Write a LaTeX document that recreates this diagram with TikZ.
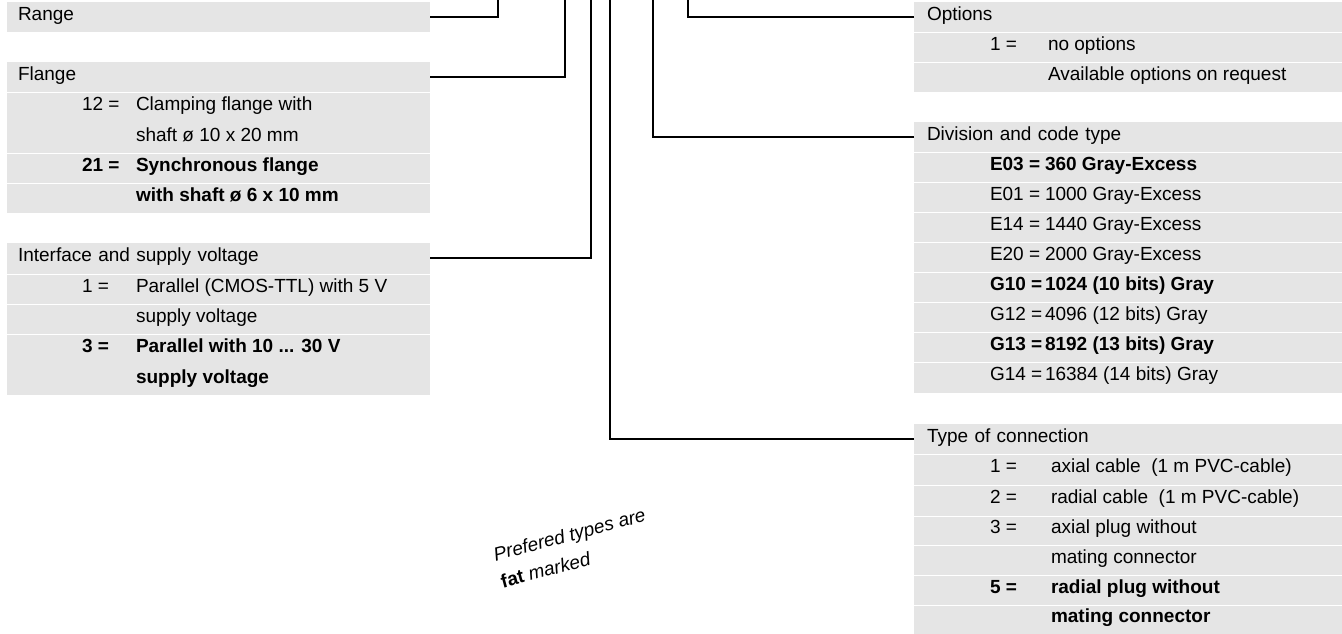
\documentclass[tikz,border=0pt]{standalone}
\usepackage{fontspec}
\setmainfont{Liberation Sans}
\usetikzlibrary{calc,positioning}

\tikzset{
  conn/.style={line width=1.5pt},
  boxfill/.style={fill=black!10},
  sep/.style={draw=white,line width=0.8pt},
  headl/.style={text width=401pt,inner xsep=11pt},
  headr/.style={text width=406pt,inner xsep=13pt}
}

\begin{document}
\begin{tikzpicture}[x=1pt,y=-1pt,text height=1.5ex,text depth=0.25ex,
    every node/.style={font=\fontsize{19}{23}\selectfont,inner sep=0pt,outer sep=0pt,anchor=west}]

    \useasboundingbox (0,0) rectangle (1342,634);

    % grey boxes
    \fill[boxfill] (7,2) rectangle (430,32);
    \fill[boxfill] (7,62) rectangle (430,213);
    \fill[boxfill] (7,243) rectangle (430,395);
    \fill[boxfill] (914,2) rectangle (1342,92);
    \fill[boxfill] (914,122) rectangle (1342,393);
    \fill[boxfill] (914,424) rectangle (1342,634);

    \foreach \y in {92,153,183} \draw[sep] (7,\y) -- (430,\y);
    \foreach \y in {274,304,334} \draw[sep] (7,\y) -- (430,\y);
    \foreach \y in {32,62} \draw[sep] (914,\y) -- (1342,\y);
    \foreach \y in {152,182,...,362} \draw[sep] (914,\y) -- (1342,\y);
    \foreach \y in {454,485,516,545,575,605} \draw[sep] (914,\y) -- (1342,\y);

    % left column
    \node[headl] (range) at (7,17) {Range};

    \node[headl] (flange) at (7,77) {Flange};
    \node (fl12c) at (82,107) {12 =};
    \node (fl12d) at (136,107) {Clamping flange with};
    \node (fl12e) at (136,138) {shaft ø 10 x 20 mm};
    \node[font=\fontsize{19}{23}\selectfont\bfseries] (fl21c) at (82,168) {21 =};
    \node[font=\fontsize{19}{23}\selectfont\bfseries] (fl21d) at (136,168) {Synchronous flange};
    \node[font=\fontsize{19}{23}\selectfont\bfseries] (fl21e) at (136,198) {with shaft ø 6 x 10 mm};

    \node[headl] (iface) at (7,258) {Interface and supply voltage};
    \node (if1c) at (82,289) {1 =};
    \node (if1d) at (136,289) {Parallel (CMOS-TTL) with 5 V};
    \node (if1e) at (136,319) {supply voltage};
    \node[font=\fontsize{19}{23}\selectfont\bfseries] (if3c) at (82,349) {3 =};
    \node[font=\fontsize{19}{23}\selectfont\bfseries] (if3d) at (136,349) {Parallel with 10 ... 30 V};
    \node[font=\fontsize{19}{23}\selectfont\bfseries] (if3e) at (136,380) {supply voltage};

    % right column
    \node[headr] (opts) at (914,17) {Options};
    \node (op1c) at (990,47) {1 =};
    \node (op1d) at (1048,47) {no options};
    \node (op1e) at (1048,77) {Available options on request};

    \node[headr] (divis) at (914,137) {Division and code type};
    \node[font=\fontsize{19}{23}\selectfont\bfseries] (e03c) at (990,167) {E03 =};
    \node[font=\fontsize{19}{23}\selectfont\bfseries] (e03d) at (1045,167) {360 Gray-Excess};
    \node (e01c) at (990,197) {E01 =};
    \node (e01d) at (1045,197) {1000 Gray-Excess};
    \node (e14c) at (990,227) {E14 =};
    \node (e14d) at (1045,227) {1440 Gray-Excess};
    \node (e20c) at (990,257) {E20 =};
    \node (e20d) at (1045,257) {2000 Gray-Excess};
    \node[font=\fontsize{19}{23}\selectfont\bfseries] (g10c) at (990,287) {G10 =};
    \node[font=\fontsize{19}{23}\selectfont\bfseries] (g10d) at (1045,287) {1024 (10 bits) Gray};
    \node (g12c) at (990,317) {G12 =};
    \node (g12d) at (1045,317) {4096 (12 bits) Gray};
    \node[font=\fontsize{19}{23}\selectfont\bfseries] (g13c) at (990,347) {G13 =};
    \node[font=\fontsize{19}{23}\selectfont\bfseries] (g13d) at (1045,347) {8192 (13 bits) Gray};
    \node (g14c) at (990,377) {G14 =};
    \node (g14d) at (1045,377) {16384 (14 bits) Gray};

    \node[headr] (conn) at (914,439) {Type of connection};
    \node (cn1c) at (990,469) {1 =};
    \node (cn1d) at (1051,469) {axial cable~ (1 m PVC-cable)};
    \node (cn2c) at (990,500) {2 =};
    \node (cn2d) at (1051,500) {radial cable~ (1 m PVC-cable)};
    \node (cn3c) at (990,530) {3 =};
    \node (cn3d) at (1051,530) {axial plug without};
    \node (cn3e) at (1051,560) {mating connector};
    \node[font=\fontsize{19}{23}\selectfont\bfseries] (cn5c) at (990,590) {5 =};
    \node[font=\fontsize{19}{23}\selectfont\bfseries] (cn5d) at (1051,590) {radial plug without};
    \node[font=\fontsize{19}{23}\selectfont\bfseries] (cn5e) at (1051,619) {mating connector};

    % note
    \node[rotate=15,align=left,anchor=center,text height=,text depth=,
          font=\fontsize{19}{28}\selectfont\itshape] (pref) at (573,548)
          {Prefered types are\\\textbf{\upshape fat} marked};

    % connectors up to the top edge
    \coordinate (trange) at (498,0);
    \coordinate (tflange) at (565,0);
    \coordinate (tiface) at (591,0);
    \coordinate (tconn) at (610,0);
    \coordinate (tdivis) at (653,0);
    \coordinate (topts) at (688,0);

    \draw[conn] (range.east) -| (trange);
    \draw[conn] (flange.east) -| (tflange);
    \draw[conn] (iface.east) -| (tiface);
    \draw[conn] (conn.west) -| (tconn);
    \draw[conn] (divis.west) -| (tdivis);
    \draw[conn] (opts.west) -| (topts);
\end{tikzpicture}
\end{document}
